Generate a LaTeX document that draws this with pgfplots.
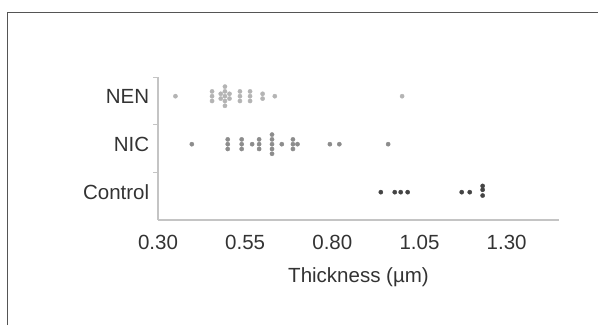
\documentclass[border=0pt]{standalone}
\usepackage{fontspec}
\setmainfont{Liberation Sans}
\usepackage{pgfplots}
\pgfplotsset{compat=1.18}
\definecolor{txt}{HTML}{333333}
\definecolor{axc}{HTML}{C4C4C4}
\definecolor{frm}{HTML}{555555}
\definecolor{cnen}{HTML}{B4B4B4}
\definecolor{cnic}{HTML}{8C8C8C}
\definecolor{cctl}{HTML}{444444}
\begin{document}
\begin{tikzpicture}[x=1pt,y=1pt]
\useasboundingbox (0,0) rectangle (598,325);
\draw[frm, line width=1pt] (7,0) -- (7,313) -- (598,313);
\begin{axis}[
  at={(158pt,105pt)}, anchor=south west, scale only axis,
  width=401pt, height=143pt,
  xmin=0.3, xmax=1.45, ymin=0.42, ymax=3.4,
  axis x line*=bottom, axis y line*=left,
  axis line style={axc, line width=1.3pt},
  xtick={0.30,0.55,0.80,1.05,1.30},
  xticklabel style={yshift=-7pt, /pgf/number format/.cd, fixed, fixed zerofill, precision=2},
  /pgf/number format/assume math mode=true,
  major x tick style={draw=none},
  ytick={1,2,3}, yticklabels={Control,NIC,NEN},
  yticklabel style={xshift=-1pt},
  major y tick style={draw=none},
  minor ytick={1.4,2.4,3.4},
  minor y tick style={axc, line width=1pt},
  minor tick length=5pt, tick align=outside,
  tick label style={font=\fontsize{20.5}{24}\selectfont, text=txt},
  xlabel={Thickness (µm)},
  xlabel style={font=\fontsize{20.5}{24}\selectfont, text=txt, yshift=-11pt},
  clip=false,
]
\addplot[only marks, mark=*, mark size=2.1pt, mark options={draw=cnen, fill=cnen}] coordinates {
(0.350,3)
(0.455,3.1)(0.455,3)(0.455,2.9)
(0.480,3.05)(0.480,2.95)
(0.492,3.2)(0.492,3.1)(0.492,3)(0.492,2.9)(0.492,2.8)
(0.505,3.05)(0.505,2.95)
(0.535,3.1)(0.535,3)(0.535,2.9)
(0.564,3.1)(0.564,3)(0.564,2.9)
(0.600,3.05)(0.600,2.95)
(0.635,3)
(1.000,3)
};
\addplot[only marks, mark=*, mark size=2.1pt, mark options={draw=cnic, fill=cnic}] coordinates {
(0.397,2)
(0.500,2.1)(0.500,2)(0.500,1.9)
(0.540,2.1)(0.540,2)(0.540,1.9)
(0.570,2)
(0.590,2.1)(0.590,2)(0.590,1.9)
(0.627,2.2)(0.627,2.1)(0.627,2)(0.627,1.9)(0.627,1.8)
(0.655,2)
(0.687,2.1)(0.687,2)(0.687,1.9)
(0.700,2)
(0.793,2)
(0.820,2)
(0.960,2)
};
\addplot[only marks, mark=*, mark size=2.1pt, mark options={draw=cctl, fill=cctl}] coordinates {
(0.939,1)
(0.979,1)
(0.996,1)
(1.016,1)
(1.171,1)
(1.194,1)
(1.231,1.13)(1.231,1.05)(1.231,0.93)
};
\end{axis}
\end{tikzpicture}
\end{document}
